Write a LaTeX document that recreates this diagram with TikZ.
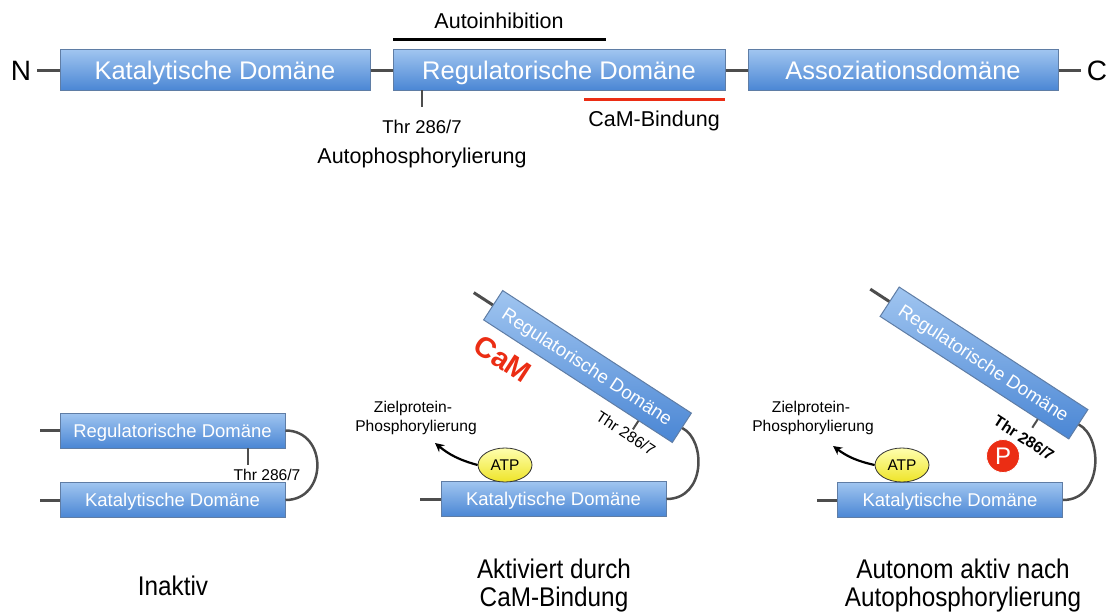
\documentclass[tikz,border=0pt]{standalone}
\usepackage{fontspec}
\setmainfont{Liberation Sans}
\newfontfamily\narrowfont[FakeStretch=0.9]{Liberation Sans}
\usetikzlibrary{shapes.geometric,arrows.meta,calc}
\definecolor{boxtop}{RGB}{160,197,240}
\definecolor{boxbot}{RGB}{74,134,212}
\definecolor{boxline}{RGB}{95,125,165}
\definecolor{linkc}{RGB}{77,77,77}
\definecolor{camred}{RGB}{235,45,20}
\definecolor{atptop}{RGB}{255,255,175}
\definecolor{atpbot}{RGB}{238,228,40}
\begin{document}
\begin{tikzpicture}[x=1pt,y=-1pt,
  box/.style={draw=boxline, line width=1pt, top color=boxtop, bottom color=boxbot,
    inner sep=0pt, text=white, text depth=0pt},
  topbox/.style={box, minimum height=41pt, text height=18.3pt, font=\fontsize{25.5}{30}\selectfont},
  smallbox/.style={box, minimum width=225pt, minimum height=35pt, text height=13.2pt, font=\fontsize{18.5}{22}\selectfont},
  link/.style={draw=linkc, line width=3pt},
  arc/.style={draw=linkc, line width=2.5pt},
  tick/.style={draw=linkc, line width=2pt},
  lbl/.style={inner sep=0pt, text=black},
  atp/.style={ellipse, draw=black!80, line width=0.8pt, top color=atptop, bottom color=atpbot,
    minimum width=54pt, minimum height=34pt, inner sep=0pt, font=\fontsize{15.5}{18}\selectfont},
  small/.style={lbl, font=\fontsize{15.6}{19}\selectfont},
  mid/.style={lbl, font=\fontsize{21.5}{26}\selectfont},
  big/.style={lbl, align=center, font=\narrowfont\fontsize{27}{28}\selectfont},
  arr/.style={draw=black, line width=2.2pt, -{Stealth[length=9pt,width=9pt]}}
]
\useasboundingbox (0,0) rectangle (1108,613);

% ---------------- top linear map ----------------
\node[topbox, minimum width=310pt] (katT) at (215,70) {Katalytische Domäne};
\node[topbox, minimum width=332pt] (regT) at (559,70) {Regulatorische Domäne};
\node[topbox, minimum width=310pt] (assT) at (903,70) {Assoziationsdomäne};
\node[lbl, font=\fontsize{28}{30}\selectfont] (N) at (21,71) {N};
\node[lbl, font=\fontsize{28}{30}\selectfont] (C) at (1097,71) {C};
\draw[link, shorten <=6pt] (N.east |- katT.west) -- (katT.west);
\draw[link] (katT) -- (regT);
\draw[link] (regT) -- (assT);
\draw[link, shorten >=6pt] (assT.east) -- (C.west |- assT.east);

\coordinate (ai1) at (393,39);
\coordinate (ai2) at (606,39);
\draw[line width=3pt] (ai1) -- (ai2);
\node[mid] (aiT) at (499,21) {Autoinhibition};

\coordinate (cb1) at (584,99);
\coordinate (cb2) at (725,99);
\draw[line width=3pt, draw=camred] (cb1) -- (cb2);
\node[mid] (cbT) at (654,121) {CaM-Bindung};

\coordinate (tT1) at (422,90);
\coordinate (tT2) at (422,107);
\draw[tick] (tT1) -- (tT2);
\node[lbl, font=\fontsize{18.5}{22}\selectfont] (thrT) at (422,127) {Thr 286/7};
\node[mid] (apT) at (422,158) {Autophosphorylierung};

% ---------------- inactive ----------------
\node[smallbox] (regL) at (172.5,430.5) {Regulatorische Domäne};
\node[smallbox] (katL) at (172.5,500) {Katalytische Domäne};
\coordinate (regLin) at (40,430.5);
\coordinate (katLin) at (40,500);
\draw[link] (regLin) -- (regL);
\draw[link] (katLin) -- (katL);
\draw[arc] (regL.east) .. controls (328,430.5) and (328,500) .. (katL.east);
\coordinate (tL1) at (248,448);
\coordinate (tL2) at (248,465);
\draw[tick] (tL1) -- (tL2);
\node[small] (thrL) at (267,475) {Thr 286/7};
\node[big] (inT) at (173,586) {Inaktiv};

% ---------------- activated by CaM ----------------
\node[smallbox] (katM) at (553.5,499) {Katalytische Domäne};
\node[smallbox, rotate=-33] (regM) at (587.5,366.5) {Regulatorische Domäne};
\coordinate (katMin) at (420,499);
\draw[link] (katMin) -- (katM);
\draw[link] ($(regM.west)!-0.1!(regM.east)$) -- (regM.west);
\draw[arc] (regM.east) .. controls (706,440) and (706,499) .. (katM.east);
\coordinate (tkM) at ($(regM.south west)!0.82!(regM.south east)$);
\draw[tick] (tkM) -- ($(tkM)!10pt!-90:(regM.south east)$);
\node[small, rotate=-33] (thrM) at (626,433) {Thr 286/7};
\node[lbl, rotate=-33, text=camred, font=\bfseries\fontsize{29}{32}\selectfont] (cam) at (503,359) {CaM};
\node[atp] (atpM) at (505,465) {ATP};
\coordinate (arM) at (435,443);
\draw[arr] (atpM.west) to[bend left=12] (arM);
\node[small] (zpM1) at (413,408) {Zielprotein-};
\node[small] (zpM2) at (416,427) {Phosphorylierung};
\node[big] (acT) at (554,586) {Aktiviert durch\\CaM-Bindung};

% ---------------- autonomous ----------------
\node[smallbox] (katR) at (950,500) {Katalytische Domäne};
\node[smallbox, rotate=-33] (regR) at (984,363) {Regulatorische Domäne};
\coordinate (katRin) at (817,500);
\draw[link] (katRin) -- (katR);
\draw[link] ($(regR.west)!-0.1!(regR.east)$) -- (regR.west);
\draw[arc] (regR.east) .. controls (1103,437) and (1103,500) .. (katR.east);
\coordinate (tkR) at ($(regR.south west)!0.835!(regR.south east)$);
\draw[tick] (tkR) -- ($(tkR)!10pt!-90:(regR.south east)$);
\node[small, rotate=-33, font=\bfseries\fontsize{15.6}{19}\selectfont] (thrR) at (1024,438) {Thr 286/7};
\node[circle, fill=camred, draw=white, line width=0.8pt, minimum size=33pt, inner sep=0pt,
  text=white, font=\fontsize{24}{26}\selectfont] (P) at (1003,456) {P};
\node[atp] (atpR) at (902,465) {ATP};
\coordinate (arR) at (833,446);
\draw[arr] (atpR.west) to[bend left=12] (arR);
\node[small] (zpR1) at (811,408) {Zielprotein-};
\node[small] (zpR2) at (813,427) {Phosphorylierung};
\node[big] (auT) at (963,586) {Autonom aktiv nach\\Autophosphorylierung};
\end{tikzpicture}
\end{document}
